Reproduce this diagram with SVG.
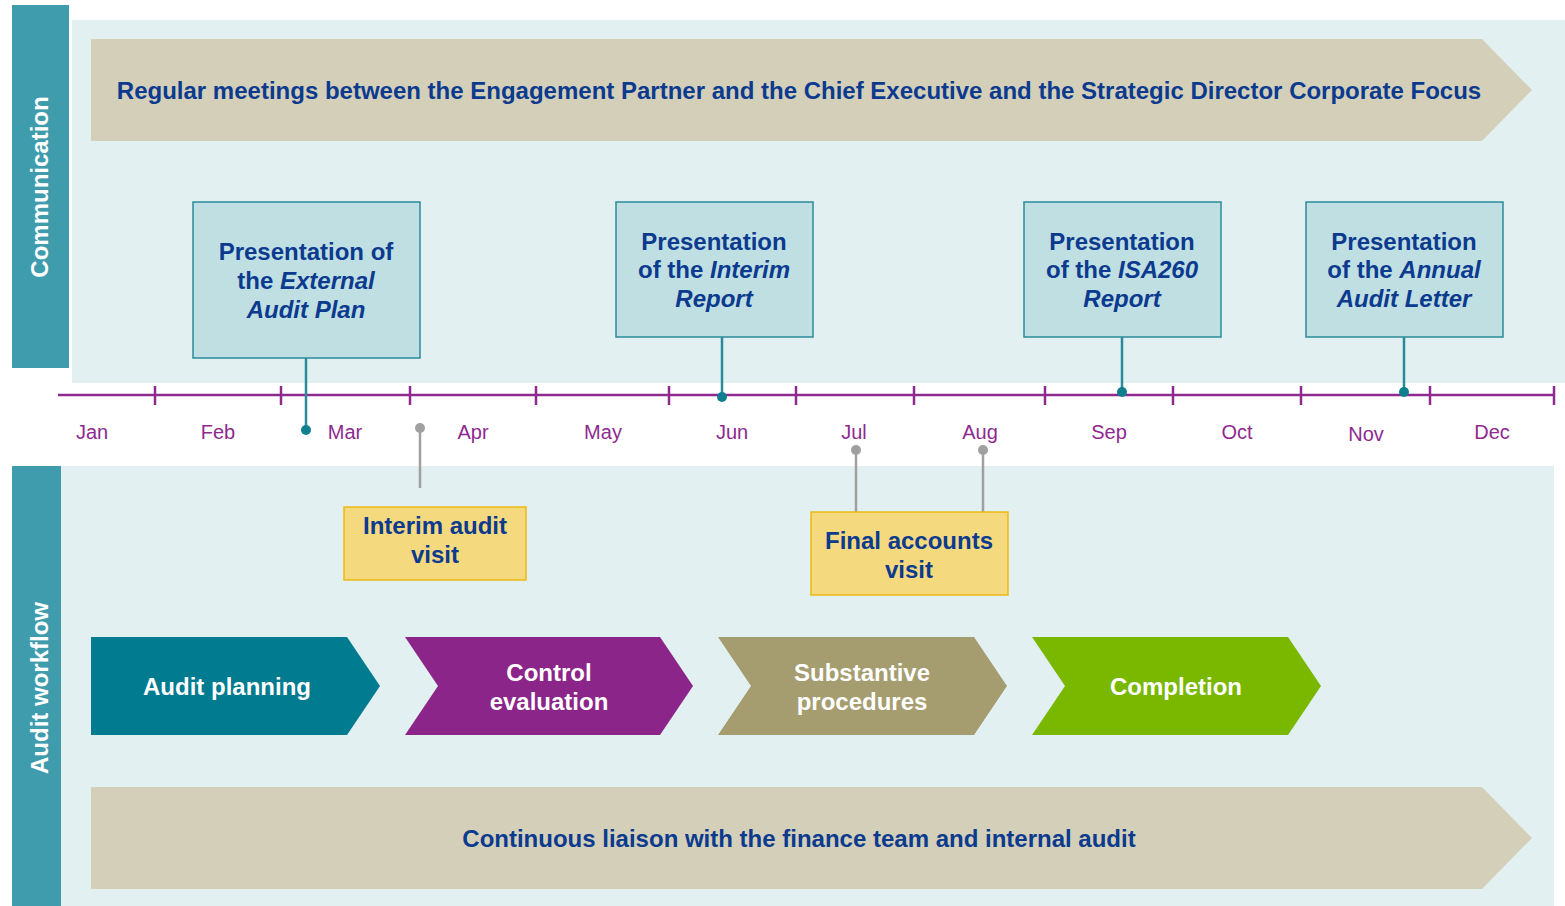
<svg xmlns="http://www.w3.org/2000/svg" width="1565" height="906" viewBox="0 0 1565 906">
<style>
.side{fill:#3F9CAD}
.panel{fill:#E2F0F2}
.banner{fill:#D4CFB8}
.btxt{font-family:"Liberation Sans",Arial,sans-serif;font-weight:bold;font-size:24px;fill:#0B3A8E;text-anchor:middle}
.side-t{font-family:"Liberation Sans",Arial,sans-serif;font-weight:bold;font-size:24px;fill:#fff;text-anchor:middle}
.pres{fill:#BFDFE3;stroke:#2B8C9B;stroke-width:1.5}
.visit{fill:#F5D97E;stroke:#EAB914;stroke-width:1.5}
.month{font-family:"Liberation Sans",Arial,sans-serif;font-size:20px;fill:#8E2A8F;text-anchor:middle}
.wtxt{font-family:"Liberation Sans",Arial,sans-serif;font-weight:bold;font-size:24px;fill:#fff;text-anchor:middle}
.tick{stroke:#8E2A8F;stroke-width:2.5}
.tl{stroke:#2A8A9A;stroke-width:2.5;fill:none}
.gl{stroke:#A0A0A0;stroke-width:2.5;fill:none}
</style>

<g id="communication-lane">
<rect class="side" x="12" y="5" width="57" height="363"/>
<rect class="panel" x="72" y="20" width="1493" height="363"/>
<text class="side-t" transform="translate(48,187) rotate(-90)">Communication</text>
</g>

<g id="workflow-lane">
<rect class="side" x="12" y="466" width="49" height="440"/>
<rect class="panel" x="61" y="466" width="1493" height="440"/>
<text class="side-t" transform="translate(48,688) rotate(-90)">Audit workflow</text>
</g>

<g id="regular-meetings">
<polygon class="banner" points="91,39 1482,39 1532,90 1482,141 91,141"/>
<text class="btxt" x="799" y="99">Regular meetings between the Engagement Partner and the Chief Executive and the Strategic Director Corporate Focus</text>
</g>

<g id="timeline">
<line x1="58" y1="395" x2="1554" y2="395" class="tick"/>
<g class="tick">
<line x1="155" y1="386" x2="155" y2="405"/>
<line x1="281" y1="386" x2="281" y2="405"/>
<line x1="410" y1="386" x2="410" y2="405"/>
<line x1="536" y1="386" x2="536" y2="405"/>
<line x1="669" y1="386" x2="669" y2="405"/>
<line x1="796" y1="386" x2="796" y2="405"/>
<line x1="914" y1="386" x2="914" y2="405"/>
<line x1="1045" y1="386" x2="1045" y2="405"/>
<line x1="1173" y1="386" x2="1173" y2="405"/>
<line x1="1301" y1="386" x2="1301" y2="405"/>
<line x1="1430" y1="386" x2="1430" y2="405"/>
<line x1="1554" y1="386" x2="1554" y2="405"/>
</g>
<text class="month" x="92" y="439">Jan</text>
<text class="month" x="218" y="439">Feb</text>
<text class="month" x="345" y="439">Mar</text>
<text class="month" x="473" y="439">Apr</text>
<text class="month" x="603" y="439">May</text>
<text class="month" x="732" y="439">Jun</text>
<text class="month" x="854" y="439">Jul</text>
<text class="month" x="980" y="439">Aug</text>
<text class="month" x="1109" y="439">Sep</text>
<text class="month" x="1237" y="439">Oct</text>
<text class="month" x="1366" y="441">Nov</text>
<text class="month" x="1492" y="439">Dec</text>
</g>

<g id="connectors">
<line class="tl" x1="306" y1="358" x2="306" y2="430"/>
<circle cx="306" cy="430" r="5" fill="#0F7E8F"/>
<line class="tl" x1="722" y1="337" x2="722" y2="397"/>
<circle cx="722" cy="397" r="5" fill="#0F7E8F"/>
<line class="tl" x1="1122" y1="337" x2="1122" y2="392"/>
<circle cx="1122" cy="392" r="5" fill="#0F7E8F"/>
<line class="tl" x1="1404" y1="337" x2="1404" y2="392"/>
<circle cx="1404" cy="392" r="5" fill="#0F7E8F"/>
<line class="gl" x1="420" y1="428" x2="420" y2="488"/>
<circle cx="420" cy="428" r="5" fill="#A0A0A0"/>
<line class="gl" x1="856" y1="450" x2="856" y2="512"/>
<circle cx="856" cy="450" r="5" fill="#A0A0A0"/>
<line class="gl" x1="983" y1="450" x2="983" y2="512"/>
<circle cx="983" cy="450" r="5" fill="#A0A0A0"/>
</g>

<g id="pres-audit-plan">
<rect class="pres" x="193" y="202" width="227" height="156"/>
<text class="btxt" x="306" y="260">Presentation of</text>
<text class="btxt" x="306" y="289">the <tspan font-style="italic">External</tspan></text>
<text class="btxt" x="306" y="318" font-style="italic">Audit Plan</text>
</g>

<g id="pres-interim-report">
<rect class="pres" x="616" y="202" width="197" height="135"/>
<text class="btxt" x="714" y="250">Presentation</text>
<text class="btxt" x="714" y="278">of the <tspan font-style="italic">Interim</tspan></text>
<text class="btxt" x="714" y="307" font-style="italic">Report</text>
</g>

<g id="pres-isa260">
<rect class="pres" x="1024" y="202" width="197" height="135"/>
<text class="btxt" x="1122" y="250">Presentation</text>
<text class="btxt" x="1122" y="278">of the <tspan font-style="italic">ISA260</tspan></text>
<text class="btxt" x="1122" y="307" font-style="italic">Report</text>
</g>

<g id="pres-annual-letter">
<rect class="pres" x="1306" y="202" width="197" height="135"/>
<text class="btxt" x="1404" y="250">Presentation</text>
<text class="btxt" x="1404" y="278">of the <tspan font-style="italic">Annual</tspan></text>
<text class="btxt" x="1404" y="307" font-style="italic">Audit Letter</text>
</g>

<g id="interim-visit">
<rect class="visit" x="344" y="507" width="182" height="73"/>
<text class="btxt" x="435" y="534">Interim audit</text>
<text class="btxt" x="435" y="563">visit</text>
</g>

<g id="final-visit">
<rect class="visit" x="811" y="512" width="197" height="83"/>
<text class="btxt" x="909" y="549">Final accounts</text>
<text class="btxt" x="909" y="578">visit</text>
</g>

<g id="audit-planning">
<polygon points="91,637 347,637 380,686 347,735 91,735" fill="#007B8F"/>
<text class="wtxt" x="227" y="695">Audit planning</text>
</g>

<g id="control-evaluation">
<polygon points="405,637 660,637 693,686 660,735 405,735 438,686" fill="#8B2589"/>
<text class="wtxt" x="549" y="681">Control</text>
<text class="wtxt" x="549" y="710">evaluation</text>
</g>

<g id="substantive-procedures">
<polygon points="718,637 974,637 1007,686 974,735 718,735 751,686" fill="#A59D6F"/>
<text class="wtxt" x="862" y="681">Substantive</text>
<text class="wtxt" x="862" y="710">procedures</text>
</g>

<g id="completion">
<polygon points="1032,637 1288,637 1321,686 1288,735 1032,735 1065,686" fill="#7AB800"/>
<text class="wtxt" x="1176" y="695">Completion</text>
</g>

<g id="continuous-liaison">
<polygon class="banner" points="91,787 1482,787 1532,838 1482,889 91,889"/>
<text class="btxt" x="799" y="847">Continuous liaison with the finance team and internal audit</text>
</g>
</svg>
